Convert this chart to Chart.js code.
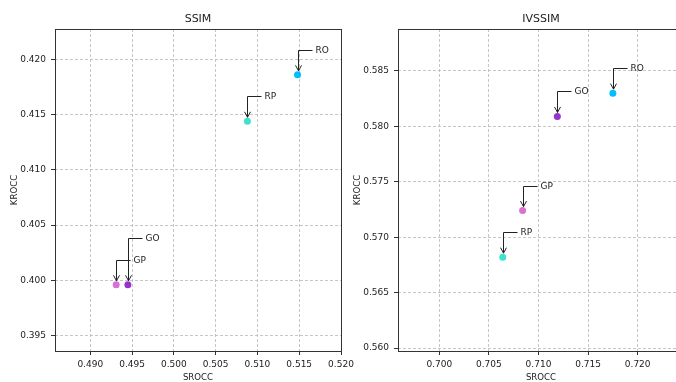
<!DOCTYPE html>
<html><head><meta charset="utf-8">
<script src="https://cdn.jsdelivr.net/npm/chart.js@4/dist/chart.umd.min.js"></script>
<style>
html,body{margin:0;padding:0;background:#fff;overflow:hidden;width:676px;height:382px;}
#w{position:relative;width:676px;height:382px;overflow:hidden;background:#fff;}
canvas{position:absolute;top:0;}
#c1{left:0;}
#c2{left:343px;}
</style></head><body>
<div id="w"><canvas id="c1" width="360" height="382"></canvas><canvas id="c2" width="360" height="382"></canvas></div>
<script>
// ---- data ----
const methods = ['RO', 'RP', 'GP', 'GO'];
const methodColors = ['#00bfff', '#40e0d0', '#da70d6', '#9932cc'];

const ssimSrocc = [0.5148, 0.5088, 0.4931, 0.4945];
const ssimKrocc = [0.4186, 0.4144, 0.3996, 0.3996];

const ivssimSrocc = [0.7175, 0.7064, 0.7084, 0.7119];
const ivssimKrocc = [0.5830, 0.5682, 0.5724, 0.5809];

const ssimXTicks = [0.490, 0.495, 0.500, 0.505, 0.510, 0.515, 0.520];
const ssimYTicks = [0.395, 0.400, 0.405, 0.410, 0.415, 0.420];
const ivssimXTicks = [0.700, 0.705, 0.710, 0.715, 0.720];
const ivssimYTicks = [0.560, 0.565, 0.570, 0.575, 0.580, 0.585];

// ---- styles ----
const FONT = "'DejaVu Sans', sans-serif";
const ssimArrowRise = [25, 25, 25, 47];
const ivssimArrowRise = [25, 25, 25, 25];

function annotatePlugin(names, rise) {
  return {
    id: 'annot',
    afterDatasetsDraw(chart) {
      const ctx = chart.ctx;
      const meta = chart.getDatasetMeta(0);
      ctx.save();
      ctx.strokeStyle = '#222';
      ctx.fillStyle = '#222';
      ctx.lineWidth = 1;
      ctx.font = '9px ' + FONT;
      ctx.textBaseline = 'middle';
      ctx.textAlign = 'left';
      meta.data.forEach((pt, i) => {
        const px = Math.round(pt.x) + 0.5;
        const py = pt.y;
        const ly = Math.round(py - rise[i]) + 0.5;
        ctx.beginPath();
        ctx.moveTo(px + 14, ly);
        ctx.lineTo(px, ly);
        ctx.lineTo(px, py - 4);
        ctx.stroke();
        ctx.beginPath();
        ctx.moveTo(px - 3, py - 9.5);
        ctx.lineTo(px, py - 4);
        ctx.lineTo(px + 3, py - 9.5);
        ctx.stroke();
        ctx.fillText(names[i], px + 17, ly);
      });
      ctx.restore();
    }
  };
}

function framePlugin(title) {
  return {
    id: 'frame',
    afterDraw(chart) {
      const {ctx, chartArea: a} = chart;
      ctx.save();
      ctx.strokeStyle = '#333';
      ctx.lineWidth = 1;
      ctx.strokeRect(Math.round(a.left) + 0.5, Math.round(a.top) + 0.5,
        Math.round(a.right - a.left), Math.round(a.bottom - a.top));
      ctx.fillStyle = '#222';
      ctx.font = '11px ' + FONT;
      ctx.textAlign = 'center';
      ctx.textBaseline = 'middle';
      ctx.fillText(title, (a.left + a.right) / 2, 19);
      ctx.restore();
    }
  };
}

function makeChart(id, xs, ys, xMin, xMax, yMin, yMax, xTicks, yTicks, title, rise, padRight) {
  const tickSetter = (arr) => (scale) => { scale.ticks = arr.map(v => ({value: v})); };
  return new Chart(document.getElementById(id), {
    type: 'scatter',
    data: {
      datasets: [{
        data: xs.map((x, i) => ({x: x, y: ys[i]})),
        backgroundColor: methodColors,
        borderColor: methodColors,
        borderWidth: 0,
        pointRadius: 3.5,
        pointHoverRadius: 3.5
      }]
    },
    options: {
      responsive: false,
      animation: false,
      events: [],
      layout: {padding: {top: 29, left: 0, right: padRight, bottom: 0}},
      plugins: {legend: {display: false}, tooltip: {enabled: false}, title: {display: false}},
      scales: {
        x: {
          type: 'linear', min: xMin, max: xMax,
          afterBuildTicks: tickSetter(xTicks),
          afterFit(s) { s.height = 31; s.paddingLeft = 0; s.paddingRight = 0; },
          ticks: {
            color: '#222', font: {family: FONT, size: 9}, padding: 4, maxRotation: 0, autoSkip: false,
            callback: v => Number(v).toFixed(3)
          },
          grid: {color: '#b8b8b8', lineWidth: 0.8, tickColor: '#333', tickLength: 4, tickWidth: 1, tickBorderDash: []},
          border: {display: false, dash: [3, 2]},
          title: {display: true, text: 'SROCC', color: '#222', font: {family: FONT, size: 8.6, lineHeight: 1}, padding: {top: 0, bottom: 0}}
        },
        y: {
          type: 'linear', min: yMin, max: yMax,
          afterBuildTicks: tickSetter(yTicks),
          afterFit(s) { s.width = 55; s.paddingTop = 0; s.paddingBottom = 0; },
          ticks: {
            color: '#222', font: {family: FONT, size: 9}, padding: 5, autoSkip: false,
            callback: v => Number(v).toFixed(3)
          },
          grid: {color: '#b8b8b8', lineWidth: 0.8, tickColor: '#333', tickLength: 4, tickWidth: 1, tickBorderDash: []},
          border: {display: false, dash: [3, 2]},
          title: {display: true, text: 'KROCC', color: '#222', font: {family: FONT, size: 8.6, lineHeight: 1}, padding: {top: 10, bottom: 0}}
        }
      }
    },
    plugins: [annotatePlugin(methods, rise), framePlugin(title)]
  });
}

makeChart('c1', ssimSrocc, ssimKrocc, 0.48578, 0.5200, 0.39361, 0.42275, ssimXTicks, ssimYTicks, 'SSIM', ssimArrowRise, 19);
makeChart('c2', ivssimSrocc, ivssimKrocc, 0.69584, 0.72467, 0.55973, 0.58879, ivssimXTicks, ivssimYTicks, 'IVSSIM', ivssimArrowRise, 19);
</script>
</body></html>
